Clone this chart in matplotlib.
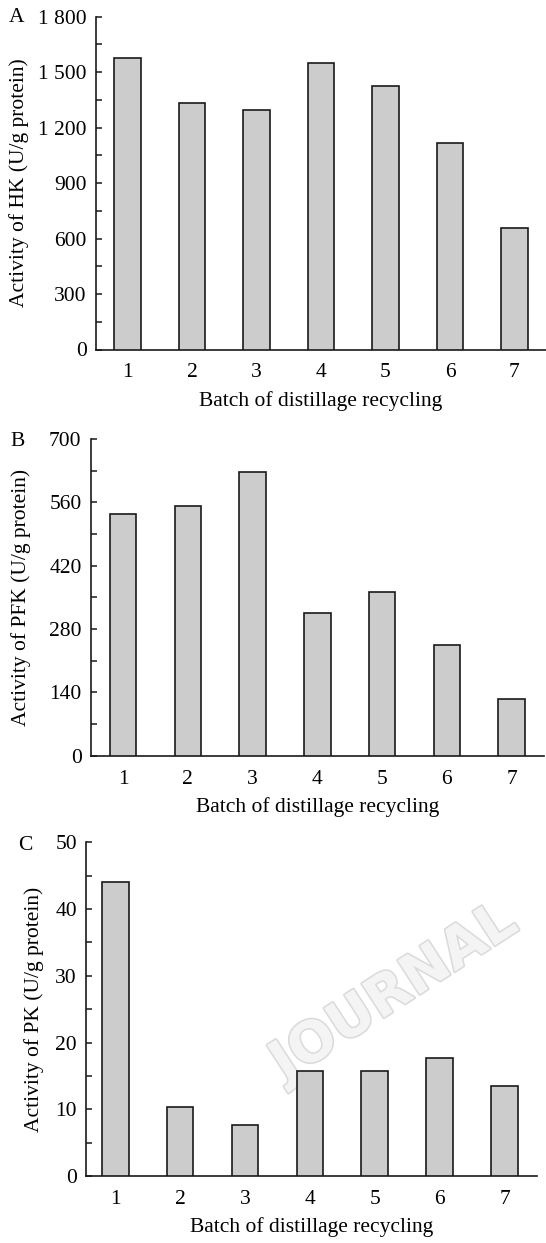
import matplotlib
matplotlib.use("Agg")
import matplotlib.pyplot as plt
import matplotlib.patheffects as pe
from matplotlib.ticker import MultipleLocator, FuncFormatter

plt.rcParams['font.family'] = ['Liberation Serif', 'DejaVu Serif']

batches = [1, 2, 3, 4, 5, 6, 7]
batch_labels = ["1", "2", "3", "4", "5", "6", "7"]
hk_values = [1577, 1335, 1297, 1551, 1426, 1118, 655]
pfk_values = [534, 553, 628, 315, 362, 244, 125]
pk_values = [44.1, 10.3, 7.7, 15.8, 15.8, 17.7, 13.5]

xlabel = "Batch of distillage recycling"
ylabels = ["Activity of HK (U/g protein)", "Activity of PFK (U/g protein)",
           "Activity of PK (U/g protein)"]
panel_letters = ["A", "B", "C"]

W, H = 546, 1243
fig = plt.figure(figsize=(W / 100, H / 100), dpi=100)

def fx(px):
    return px / W

def fy(py):
    return 1 - py / H

# (left px, right px, top px, bottom px)
boxes = [(96, 546, 16.7, 349.5), (90.7, 544, 439, 755.7), (86, 537, 842.3, 1176)]
ylims = [(0, 1800), (0, 700), (0, 50)]
majors = [300, 140, 10]
xlims = [(0.51, 7.49), (0.5, 7.5), (0.55, 7.5)]
datasets = [hk_values, pfk_values, pk_values]
letter_pos = [(17, 18), (18, 441.7), (25, 845)]
ylabel_right = [29, 31, 44]

def fmt(v, pos):
    v = int(round(v))
    if v >= 1000:
        return f"{v // 1000} {v % 1000:03d}"
    return str(v)

FS = 15.5
axes = []
for i in range(3):
    l, r, t, b = boxes[i]
    ax = fig.add_axes([fx(l), fy(b), fx(r) - fx(l), fy(t) - fy(b)])
    axes.append(ax)
    ax.bar(batches, datasets[i], width=0.41, color="#cccccc",
           edgecolor="#1a1a1a", linewidth=1.2, zorder=3)
    ax.set_xlim(*xlims[i])
    ax.set_ylim(*ylims[i])
    ax.set_xticks(batches)
    ax.set_xticklabels(batch_labels)
    ax.yaxis.set_major_locator(MultipleLocator(majors[i]))
    ax.yaxis.set_minor_locator(MultipleLocator(majors[i] / 2))
    ax.yaxis.set_major_formatter(FuncFormatter(fmt))
    for s in ["top", "right"]:
        ax.spines[s].set_visible(False)
    for s in ["left", "bottom"]:
        ax.spines[s].set_linewidth(1.2)
        ax.spines[s].set_color("#1a1a1a")
    ax.tick_params(axis="y", which="both", direction="in", length=4.5,
                   width=1.1, labelsize=FS, pad=6.6, color="#1a1a1a")
    ax.tick_params(axis="x", which="both", length=0, labelsize=FS, pad=10)
    ax.set_xlabel(xlabel, fontsize=FS, labelpad=6)
    ax.set_ylabel(ylabels[i], fontsize=FS)
    ax.yaxis.set_label_coords(fx(ylabel_right[i]), (fy(t) + fy(b)) / 2,
                              transform=fig.transFigure)
    fig.text(fx(letter_pos[i][0]), fy(letter_pos[i][1]), panel_letters[i],
             fontsize=FS, ha="center", va="center")

# faint watermark on panel C
wm = fig.text(fx(262), fy(1080), "JOURNAL", rotation=33, fontsize=40,
              fontweight="bold", color="#f4f4f4", ha="left", va="baseline",
              family="DejaVu Sans", zorder=0)
wm.set_path_effects([pe.withStroke(linewidth=2.2, foreground="#dadada")])
axes[2].set_zorder(1)
axes[2].patch.set_alpha(0)

fig.savefig("out.png", dpi=100)
